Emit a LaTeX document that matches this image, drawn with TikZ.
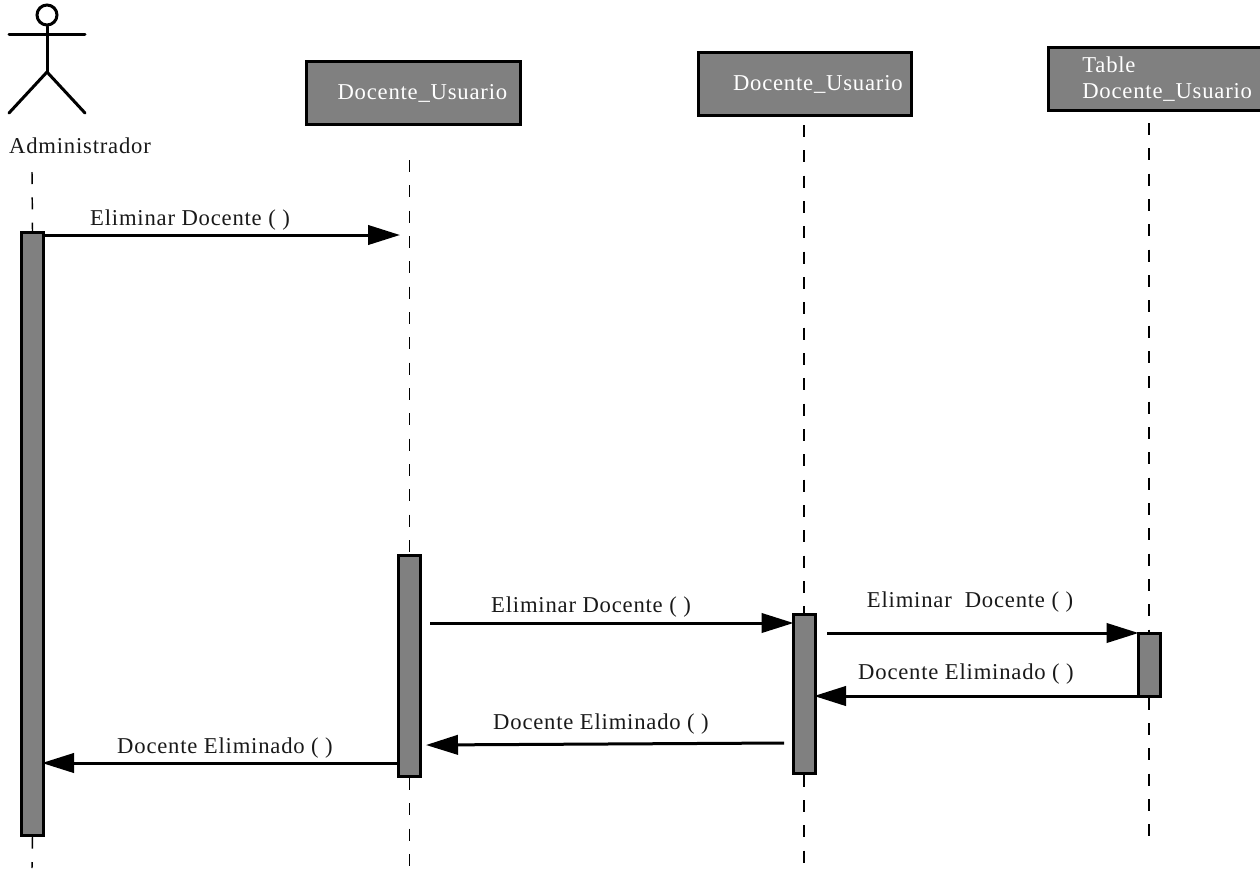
\documentclass[tikz,border=0pt]{standalone}
\usepackage{fontspec}
\setmainfont[LetterSpace=3.5]{Liberation Serif}
\usetikzlibrary{arrows.meta}
\definecolor{boxgray}{HTML}{808080}
\tikzset{
  x=0.75pt,y=-0.75pt,
  every node/.style={font=\fontsize{17}{19.5}\selectfont},
  lifebox/.style={draw=black,line width=2.25pt,fill=boxgray,text=white,minimum height=47pt,
    inner xsep=0pt,inner ysep=0pt,align=left,anchor=center},
  bar/.style={draw=black,line width=2.25pt,fill=boxgray,minimum width=16.5pt,inner sep=0pt,anchor=north},
  lifeline/.style={line width=1.1pt,dash pattern=on 9pt off 10pt},
  msg/.style={line width=2.25pt,shorten >=-1.5pt,-{Triangle[length=24pt,width=14.5pt]}},
  stick/.style={line width=2.25pt,line cap=round},
  lbl/.style={inner sep=0pt,text=black!90}
}
\begin{document}
\begin{tikzpicture}
\useasboundingbox (0,0) rectangle (1260,875);
\clip (0,0) rectangle (1260,875);
% actor
\node[draw=black,line width=2.25pt,circle,minimum size=15pt,inner sep=0pt] (head) at (47,15) {};
\coordinate (armL) at (9,34); \coordinate (armR) at (85,34);
\coordinate (hip) at (47,72); \coordinate (legL) at (9,113); \coordinate (legR) at (85,113);
\draw[stick] (head.south) -- (hip);
\draw[stick] (armL) -- (armR);
\draw[stick] (legL) -- (hip) -- (legR);
\node[lbl] (admin) at (80,146) {Administrador};
% lifeline boxes
\node[lifebox,minimum width=160pt,text width=160pt] (box1) at (413.5,93) {\hspace*{23pt}Docente\_Usuario};
\node[lifebox,minimum width=160pt,text width=160pt] (box2) at (805,84) {\hspace*{26pt}Docente\_Usuario};
\node[lifebox,minimum width=166pt,text width=166pt] (box3) at (1159,79) {\hspace*{25.5pt}Table\\\hspace*{25.5pt}Docente\_Usuario};
% activation bars
\node[bar,minimum height=452pt] (bar1) at (32.5,231) {};
\node[bar,minimum height=166pt] (bar2) at (409.5,553.5) {};
\node[bar,minimum height=119pt] (bar3) at (804,613) {};
\node[bar,minimum height=47pt] (bar4) at (1149,632) {};
% lifeline ends
\coordinate (t1) at (32,172);  \coordinate (e1) at (32,868);
\coordinate (t2) at (409.5,160); \coordinate (e2) at (409.5,866);
\coordinate (t3) at (804,125); \coordinate (e3) at (804,875);
\coordinate (t4) at (1149,123); \coordinate (e4) at (1149,836);
\draw[lifeline] (t1) -- (bar1.north);
\draw[lifeline] (bar1.south) -- (e1);
\draw[lifeline] (t2) -- (bar2.north);
\draw[lifeline] (bar2.south) -- (e2);
\draw[lifeline] (t3) -- (bar3.north);
\draw[lifeline] (bar3.south) -- (e3);
\draw[lifeline] (t4) -- (bar4.north);
\draw[lifeline] (bar4.south) -- (e4);
% message ends
\coordinate (m1e) at (398,235);
\coordinate (m2s) at (430,623);
\coordinate (m3s) at (827,633);
\coordinate (m4e) at (816,696);
\coordinate (m5s) at (784,743); \coordinate (m5e) at (428,745);
\coordinate (m6e) at (44,763);
% messages
\draw[msg] (bar1.east |- m1e) -- (m1e);
\draw[msg] (m2s) -- (bar3.west |- m2s);
\draw[msg] (m3s) -- (bar4.west |- m3s);
\draw[msg] (bar4.west |- m4e) -- (m4e);
\draw[msg] (m5s) -- (m5e);
\draw[msg] (bar2.west |- m6e) -- (m6e);
% labels
\node[lbl] (l1) at (190,220) {Eliminar Docente ( )};
\node[lbl] (l2) at (591,607) {Eliminar Docente ( )};
\node[lbl] (l3) at (970,602) {Eliminar\ \ Docente ( )};
\node[lbl] (l4) at (966,674) {Docente Eliminado ( )};
\node[lbl] (l5) at (601,724) {Docente Eliminado ( )};
\node[lbl] (l6) at (225,748) {Docente Eliminado ( )};
\end{tikzpicture}
\end{document}
